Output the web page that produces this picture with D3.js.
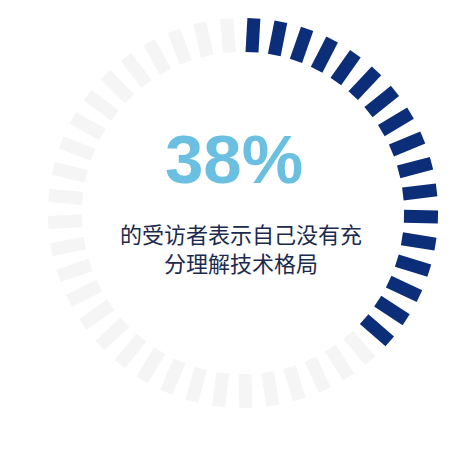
<!DOCTYPE html>
<html>
<head>
<meta charset="utf-8">
<script src="https://cdn.jsdelivr.net/npm/d3@7"></script>
<style>
  html, body { margin: 0; padding: 0; background: #ffffff; }
  svg { display: block; }
</style>
</head>
<body>
<svg id="chart" width="472" height="452"></svg>
<script>
// ---- data ----
const percentValue = 38;               // share of respondents
const segmentTotal = 45;               // number of tick segments in the ring
const valueLabel = ["38%"];
const captionLines = ["的受访者表示自己没有充", "分理解技术格局"];

// ---- layout ----
const W = 472, H = 452;
const cx = 243, cy = 213;
const rInner = 161, rOuter = 195;
const segWidth = 13;
const startOffset = 3.2; // degrees

const svg = d3.select("#chart");
const g = svg.append("g").attr("transform", `translate(${cx},${cy})`);

const filledCount = Math.round(segmentTotal * percentValue / 100);
const segments = d3.range(segmentTotal).map(i => ({ i, filled: i < filledCount }));

const angle = d3.scaleLinear().domain([0, segmentTotal]).range([startOffset, startOffset + 360]);
const radial = d3.scaleLinear().domain([0, 1]).range([rInner, rOuter]);

g.selectAll("rect.seg")
  .data(segments)
  .join("rect")
  .attr("class", "seg")
  .attr("x", -segWidth / 2)
  .attr("y", -radial(1))
  .attr("width", segWidth)
  .attr("height", radial(1) - radial(0))
  .attr("transform", d => `rotate(${angle(d.i)})`)
  .attr("fill", d => d.filled ? "#0c2d78" : "#f5f5f5");

// percent label
svg.append("text")
  .attr("x", 234)
  .attr("y", 183)
  .attr("text-anchor", "middle")
  .attr("font-family", "'Liberation Sans', Arial, sans-serif")
  .attr("font-weight", "bold")
  .attr("font-size", 69)
  .attr("fill", "#6bbfe0")
  .text(valueLabel[0]);

// caption
svg.selectAll("text.cap")
  .data(captionLines)
  .join("text")
  .attr("class", "cap")
  .attr("x", 241)
  .attr("y", (d, i) => 243 + i * 29)
  .attr("text-anchor", "middle")
  .attr("font-family", "'Noto Sans CJK SC', sans-serif")
  .attr("font-size", 22)
  .attr("fill", "#1b2a4e")
  .text(d => d);
</script>
</body>
</html>
